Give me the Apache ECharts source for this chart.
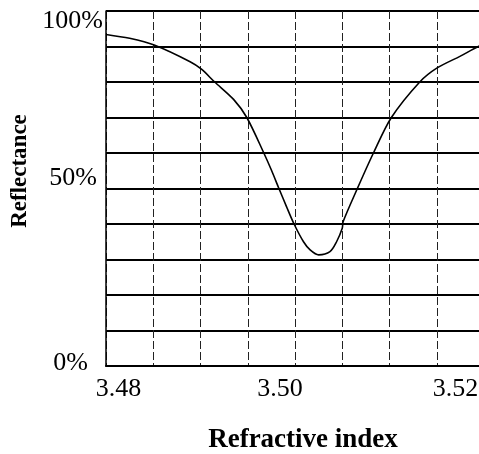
<!DOCTYPE html>
<html>
<head>
<meta charset="utf-8">
<script src="https://cdn.jsdelivr.net/npm/echarts@6/dist/echarts.min.js"></script>
<style>
  html, body { margin: 0; padding: 0; background: #fff; }
  #chart { width: 479px; height: 454px; }
</style>
</head>
<body>
<div id="chart"></div>
<script>
// Data
const refractiveIndex = [3.4800, 3.4825, 3.4851, 3.4889, 3.4901, 3.4915, 3.4935, 3.4949, 3.4967, 3.4975, 3.4983, 3.4991, 3.4999, 3.5009, 3.5016, 3.5025, 3.5037, 3.5044, 3.5050, 3.5051, 3.5066, 3.5083, 3.5102, 3.5132, 3.5150, 3.5175, 3.5194, 3.5200];
const reflectance     = [93.4,   92.3,   90.4,   85.7,   83.6,   80.0,   75.1,   70.0,   60.0,   55.2,   50.0,   44.9,   40.0,   35.0,   32.7,   31.3,   32.2,   35.0,   38.8,   40.7,   50.0,   60.0,   70.0,   80.0,   83.9,   87.3,   90.0,   90.5];
const xTickLabels = ['3.48', '3.50', '3.52'];
const yTickLabels = ['0%', '50%', '100%'];
const yTickValues = [0, 50, 100];
const xTitle = 'Refractive index';
const yTitle = 'Reflectance';

const serif = "'Liberation Serif', 'Times New Roman', 'DejaVu Serif', serif";
const chart = echarts.init(document.getElementById('chart'), null, { renderer: 'canvas' });

const xRich = {
  x0: { fontFamily: serif, fontSize: 26, color: '#000', padding: [0, 0, 0, 25] },
  x1: { fontFamily: serif, fontSize: 26, color: '#000', padding: [0, 30, 0, 0] },
  x2: { fontFamily: serif, fontSize: 26, color: '#000', padding: [0, 57, 0, 0] }
};
const yRich = {
  y0: { fontFamily: serif, fontSize: 26, color: '#000', padding: [0, 15, 6, 0] },
  y1: { fontFamily: serif, fontSize: 26, color: '#000', padding: [0, 6, 20, 0] },
  y2: { fontFamily: serif, fontSize: 26, color: '#000', padding: [20, 0, 0, 0] }
};

const option = {
  animation: false,
  backgroundColor: '#ffffff',
  grid: { left: 106, width: 378, top: 11, height: 355, containLabel: false, outerBoundsMode: 'none' },
  xAxis: {
    type: 'value',
    min: 3.48,
    max: 3.52,
    interval: 0.005,
    axisLine: { show: true, onZero: false, lineStyle: { color: '#000', width: 2 } },
    axisTick: { show: false },
    splitLine: { show: true, lineStyle: { color: '#222', width: 1, type: [8, 3] } },
    axisLabel: {
      showMinLabel: true,
      showMaxLabel: true,
      margin: 10,
      fontFamily: serif,
      fontSize: 26,
      color: '#000',
      rich: xRich,
      formatter: function (v) {
        const s = v.toFixed(2);
        const idx = xTickLabels.indexOf(s);
        if (idx < 0 || Math.abs(v - Number(s)) > 1e-7) return '';
        return '{x' + idx + '|' + xTickLabels[idx] + '}';
      }
    },
    name: xTitle,
    nameLocation: 'middle',
    nameGap: 61,
    nameTextStyle: { fontFamily: serif, fontSize: 27, fontWeight: 'bold', color: '#000', padding: [0, 0, 0, 16] }
  },
  yAxis: {
    type: 'value',
    min: 0,
    max: 100,
    interval: 10,
    axisLine: { show: true, lineStyle: { color: '#000', width: 1.5 } },
    axisTick: { show: false },
    splitLine: { show: true, lineStyle: { color: '#000', width: 2 } },
    axisLabel: {
      showMinLabel: true,
      showMaxLabel: true,
      margin: 3,
      fontFamily: serif,
      fontSize: 26,
      color: '#000',
      rich: yRich,
      formatter: function (v) {
        const idx = yTickValues.indexOf(Math.round(v));
        if (idx < 0 || Math.abs(v - yTickValues[idx]) > 1e-7) return '';
        return '{y' + idx + '|' + yTickLabels[idx] + '}';
      }
    },
    name: yTitle,
    nameLocation: 'middle',
    nameGap: 71,
    nameTextStyle: { fontFamily: serif, fontSize: 23, fontWeight: 'bold', color: '#000', padding: [0, 0, 0, 35] }
  },
  series: [{
    type: 'line',
    data: refractiveIndex.map((x, i) => [x, reflectance[i]]),
    showSymbol: false,
    smooth: 0.3,
    lineStyle: { color: '#000', width: 1.6 },
    clip: true
  }]
};
chart.setOption(option);
</script>
</body>
</html>
